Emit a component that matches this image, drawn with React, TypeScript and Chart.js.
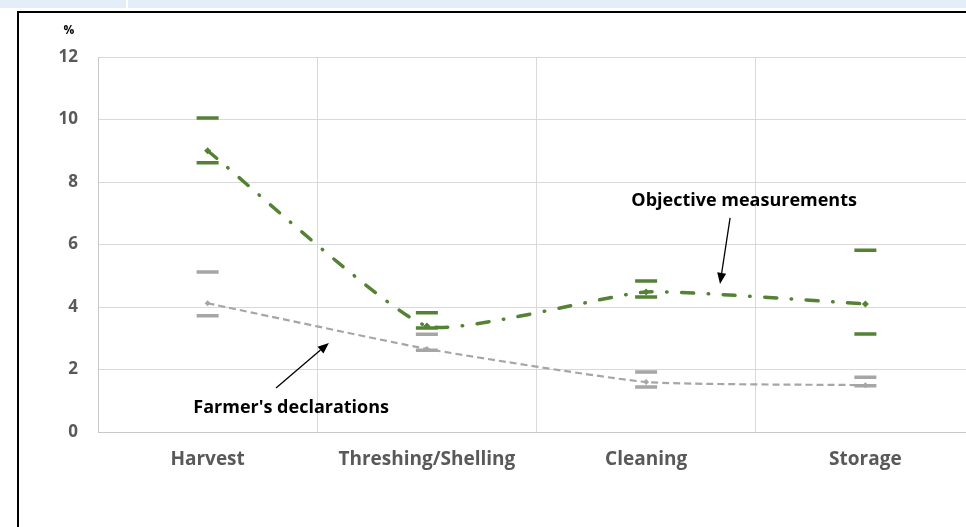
import React, { useEffect, useRef } from 'react';
import { Chart, registerables } from 'chart.js';

Chart.register(...registerables);

const categories = ['Harvest', 'Threshing/Shelling', 'Cleaning', 'Storage'];
const objectiveMean = [9.0, 3.39, 4.48, 4.1];
const objectiveHigh = [10.05, 3.82, 4.83, 5.82];
const objectiveLow = [8.62, 3.33, 4.32, 3.14];
const farmerMean = [4.12, 2.66, 1.6, 1.5];
const farmerHigh = [5.12, 3.13, 1.92, 1.75];
const farmerLow = [3.72, 2.62, 1.44, 1.48];
const yTicks = [0, 2, 4, 6, 8, 10, 12];

// annotation anchors in data space: [category index, value]
const objectiveLabel = { text: 'Objective measurements', at: [2.447, 7.39], from: [2.383, 6.85], to: [2.337, 4.74] };
const farmerLabel = { text: "Farmer's declarations", at: [0.381, 0.77], from: [0.312, 1.41], to: [0.553, 2.85] };

const GREEN = '#548235';
const GRAY = '#a6a6a6';
const TICK = '#595959';
const FONT = '"Open Sans", "Liberation Sans", sans-serif';

const annotationPlugin = {
  id: 'annotations',
  afterDatasetsDraw(chart: any) {
    const { ctx } = chart;
    const xs = chart.scales.x;
    const ys = chart.scales.y;
    const P = (p: number[]) => [xs.getPixelForValue(p[0]), ys.getPixelForValue(p[1])];
    ctx.save();
    const arrow = (a: number[], b: number[]) => {
      const [x1, y1] = P(a);
      const [x2, y2] = P(b);
      const ang = Math.atan2(y2 - y1, x2 - x1);
      const len = 11;
      const hw = 4.5;
      const bx = x2 - len * Math.cos(ang);
      const by = y2 - len * Math.sin(ang);
      ctx.strokeStyle = '#000';
      ctx.lineWidth = 1.3;
      ctx.beginPath();
      ctx.moveTo(x1, y1);
      ctx.lineTo(bx, by);
      ctx.stroke();
      ctx.fillStyle = '#000';
      ctx.beginPath();
      ctx.moveTo(x2, y2);
      ctx.lineTo(bx + hw * Math.sin(ang), by - hw * Math.cos(ang));
      ctx.lineTo(bx - hw * Math.sin(ang), by + hw * Math.cos(ang));
      ctx.closePath();
      ctx.fill();
    };
    [objectiveLabel, farmerLabel].forEach((l) => {
      ctx.font = `bold 18px ${FONT}`;
      ctx.fillStyle = '#000';
      ctx.textAlign = 'center';
      ctx.textBaseline = 'middle';
      const [tx, ty] = P(l.at);
      ctx.fillText(l.text, tx, ty);
      arrow(l.from, l.to);
    });
    // unit label above the y axis
    ctx.font = `bold 12px ${FONT}`;
    ctx.fillStyle = '#000';
    ctx.textAlign = 'center';
    ctx.textBaseline = 'middle';
    ctx.fillText('%', ys.right - 29, chart.chartArea.top - 26);
    ctx.restore();
  },
};

export default function App() {
  const ref = useRef<HTMLCanvasElement | null>(null);
  useEffect(() => {
    if (!ref.current) return;
    const capDs = (data: number[], color: string) => ({
      data,
      showLine: false,
      pointStyle: 'line',
      pointRadius: 11,
      pointHoverRadius: 11,
      borderColor: color,
      backgroundColor: color,
      pointBorderWidth: 3.5,
      borderWidth: 3.5,
    });
    const chart = new Chart(ref.current, {
      type: 'line',
      data: {
        labels: categories,
        datasets: [
          capDs(objectiveHigh, GREEN),
          capDs(objectiveLow, GREEN),
          capDs(farmerHigh, GRAY),
          capDs(farmerLow, GRAY),
          {
            label: 'Objective measurements',
            data: objectiveMean,
            borderColor: GREEN,
            backgroundColor: GREEN,
            borderWidth: 3.5,
            borderDash: [12, 14.5, 0.5, 14.5],
            borderCapStyle: 'round',
            tension: 0.15,
            pointStyle: 'rectRot',
            pointRadius: 3.5,
            pointBorderWidth: 0,
          } as any,
          {
            label: "Farmer's declarations",
            data: farmerMean,
            borderColor: GRAY,
            backgroundColor: GRAY,
            borderWidth: 2.2,
            borderDash: [7, 4],
            tension: 0.15,
            pointStyle: 'rectRot',
            pointRadius: 3,
            pointBorderWidth: 0,
          } as any,
        ],
      },
      options: {
        responsive: false,
        animation: false,
        events: [],
        layout: { padding: { top: 57, right: 25, left: 0, bottom: 0 } },
        plugins: { legend: { display: false }, tooltip: { enabled: false } },
        scales: {
          x: {
            offset: true,
            grid: { offset: true, color: '#d9d9d9', lineWidth: 1, drawTicks: false },
            border: { color: '#c8c8c8', width: 1 },
            ticks: { color: TICK, padding: 16, font: { family: FONT, size: 19, weight: 'bold' } },
            afterFit: (s: any) => { s.height = 95; },
          },
          y: {
            min: 0,
            max: 12,
            afterBuildTicks: (s: any) => { s.ticks = yTicks.map((v) => ({ value: v })); },
            grid: { color: '#d9d9d9', lineWidth: 1, drawTicks: false },
            border: { color: '#c8c8c8', width: 1 },
            ticks: { color: TICK, padding: 20, font: { family: FONT, size: 17, weight: 'bold' } },
            afterFit: (s: any) => { s.width = 98; },
          },
        },
      } as any,
      plugins: [annotationPlugin],
    });
    return () => chart.destroy();
  }, []);

  return (
    <div style={{ position: 'fixed', left: 0, top: 0, width: 966, height: 527, overflow: 'hidden', background: '#fff' }}>
      <div style={{ position: 'absolute', left: 0, top: 0, width: 966, height: 8, background: '#e4eef8' }} />
      <div style={{ position: 'absolute', left: 126, top: 0, width: 2, height: 8, background: '#fff' }} />
      <div style={{ position: 'absolute', left: 17, top: 11, width: 1000, height: 600, border: '2px solid #000', boxSizing: 'border-box' }} />
      <canvas ref={ref} width={1000} height={527} style={{ position: 'absolute', left: 0, top: 0, width: 1000, height: 527 }} />
    </div>
  );
}
